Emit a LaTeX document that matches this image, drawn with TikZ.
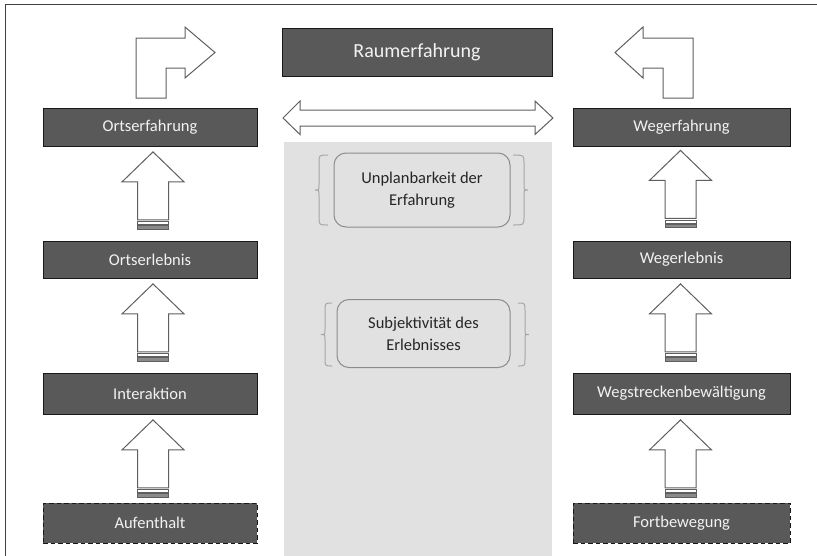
\documentclass[tikz,border=0pt]{standalone}
\usepackage{fontspec}
\setmainfont{Carlito}
\usetikzlibrary{calc}

\definecolor{boxfill}{HTML}{595959}
\definecolor{boxtext}{HTML}{F2F2F2}
\definecolor{panel}{HTML}{E1E1E1}
\definecolor{arrowline}{HTML}{5F5F5F}
\definecolor{stripefill}{HTML}{8A8A8A}
\definecolor{softline}{HTML}{8C8C8C}
\definecolor{braceline}{HTML}{A6A6A6}
\definecolor{framecol}{HTML}{404040}
\definecolor{bodytext}{HTML}{262626}

% curly brace beside a rounded box: #1 end x, #2 tip x, #3 top y, #4 bottom y, #5 +1 left / -1 right
\newcommand{\sidebrace}[5]{%
  \draw[bracestyle] (#1,#3) .. controls ({#2+#5*4},#3) .. ({#2+#5*4},{#3+8})
    -- ({#2+#5*4},{(#3+#4)/2-5}) .. controls ({#2+#5*4},{(#3+#4)/2}) .. (#2,{(#3+#4)/2})
    .. controls ({#2+#5*4},{(#3+#4)/2}) .. ({#2+#5*4},{(#3+#4)/2+5})
    -- ({#2+#5*4},{#4-8}) .. controls ({#2+#5*4},#4) .. (#1,#4);}

\begin{document}
\begin{tikzpicture}[x=1pt,y=-1pt,
  stage/.style={draw=black!90, line width=0.8pt, fill=boxfill, text=boxtext,
    font=\fontsize{16.5}{20}\selectfont, inner sep=0pt, anchor=center},
  startbox/.style={stage, dashed, dash pattern=on 4.5pt off 3pt, line width=1pt},
  notebox/.style={draw=softline, line width=1pt, rounded corners=12pt, fill=panel,
    text=bodytext, align=center, font=\fontsize{16.5}{22}\selectfont, inner sep=0pt},
  blockarrow/.style={draw=arrowline, line width=1pt, fill=white, line join=miter},
  stripeband/.style={draw=arrowline, line width=0.8pt, fill=stripefill},
  bracestyle/.style={draw=braceline, line width=1pt},
  uparrow/.pic={
    \draw[blockarrow] (0,0) -- (31,30) -- (15.5,30) -- (15.5,68) -- (-15.5,68)
      -- (-15.5,30) -- (-31,30) -- cycle;
    \draw[blockarrow, line width=0.8pt] (-15.5,69.5) rectangle (15.5,72.5);
    \draw[stripeband] (-15.5,73.5) rectangle (15.5,77);
  }
]
\useasboundingbox (0,0) rectangle (817,555);
\clip (0,0) rectangle (817,555);

% outer frame
\draw[framecol, line width=1.3pt] (5.5,4.5) rectangle (840,580);

% central panel
\fill[panel] (284,142) rectangle (552,580);

% title
\node[stage, minimum width=270pt, minimum height=48pt,
  font=\fontsize{20}{24}\selectfont] (raum) at (417,52) {Raumerfahrung};

% left column
\node[stage, minimum width=214pt, minimum height=38pt] (oerf) at (150,127) {Ortserfahrung};
\node[stage, minimum width=214pt, minimum height=37pt] (oerl) at (150,259.5) {Ortserlebnis};
\node[stage, minimum width=214pt, minimum height=41pt] (inter) at (150,393.5) {Interaktion};
\node[startbox, minimum width=214pt, minimum height=40pt] (aufe) at (150,523) {Aufenthalt};

% right column
\node[stage, minimum width=217pt, minimum height=38pt] (werf) at (681.5,127) {Wegerfahrung};
\node[stage, minimum width=217pt, minimum height=37pt] (werl) at (681.5,259.5) {Wegerlebnis};
\node[stage, minimum width=217pt, minimum height=41pt] (wstr) at (681.5,393.5) {Wegstreckenbewältigung};
\node[startbox, minimum width=217pt, minimum height=40pt] (fort) at (681.5,523) {Fortbewegung};

% upward block arrows: each one hangs just below the stage it points to
\pic at ($(oerf.south)+(3,5.5)$) {uparrow};
\pic at ($(oerl.south)+(3,5.5)$) {uparrow};
\pic at ($(inter.south)+(3,5.5)$) {uparrow};
\pic at ($(werf.south)+(-1,4)$) {uparrow};
\pic at ($(werl.south)+(-1,5.5)$) {uparrow};
\pic at ($(wstr.south)+(-1,5.5)$) {uparrow};

% bent arrows above the top stages
\draw[blockarrow] (136,98) -- (136,38) -- (185,38) -- (185,27) -- (215,52.5)
  -- (185,78) -- (185,68) -- (166,68) -- (166,98) -- cycle;
\draw[blockarrow] (693,98) -- (693,38) -- (643,38) -- (643,27) -- (615,52.5)
  -- (643,78) -- (643,68) -- (663,68) -- (663,98) -- cycle;

% double-headed arrow between the two columns
\draw[blockarrow] (283,118) -- (300,101) -- (300,110) -- (535,110) -- (535,101)
  -- (553,118) -- (535,134.5) -- (535,126) -- (300,126) -- (300,134.5) -- cycle;

% notes in the central panel
\node[notebox, minimum width=176pt, minimum height=74pt] (unpl) at (422,190)
  {Unplanbarkeit der\\Erfahrung};
\node[notebox, minimum width=173pt, minimum height=68pt] (subj) at (423.5,333.5)
  {Subjektivität des\\Erlebnisses};

\sidebrace{328}{315}{155}{225}{1}
\sidebrace{513}{528}{155}{225}{-1}
\sidebrace{332}{321}{303}{366}{1}
\sidebrace{518}{529}{303}{366}{-1}
\end{tikzpicture}
\end{document}
